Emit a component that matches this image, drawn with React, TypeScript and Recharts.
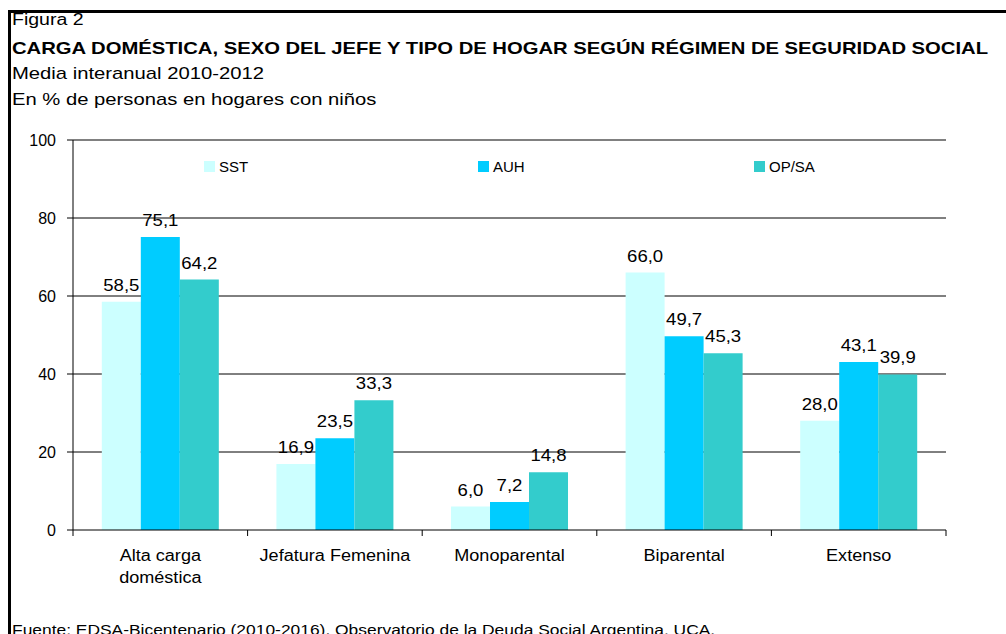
import React from "react";
import { Bar, BarChart, CartesianGrid, LabelList, Legend, ReferenceLine, XAxis, YAxis } from "recharts";

const categories = ["Alta carga\ndoméstica", "Jefatura Femenina", "Monoparental", "Biparental", "Extenso"];
const sst = [58.5, 16.9, 6.0, 66.0, 28.0];
const auh = [75.1, 23.5, 7.2, 49.7, 43.1];
const opsa = [64.2, 33.3, 14.8, 45.3, 39.9];
const yTicks = [0, 20, 40, 60, 80, 100];

const series = [
    { key: "SST", name: "SST", color: "#CCFFFF" },
    { key: "AUH", name: "AUH", color: "#00CCFF" },
    { key: "OPSA", name: "OP/SA", color: "#33CCCC" },
];

const rows = categories.map((c, i) => ({ cat: c, SST: sst[i], AUH: auh[i], OPSA: opsa[i] }));

const font = "'Liberation Sans', Arial, sans-serif";
const fmt = (v: any) => Number(v).toFixed(1).replace(".", ",");

// category label at the band centre, tick marks on the band edges
function CatTick(props: any) {
    const { x, y, payload, index, width } = props;
    const half = (width || 873) / categories.length / 2;
    const lines = String(payload.value).split("\n");
    return (
        <g>
            <line x1={x - half} y1={y} x2={x - half} y2={y + 6} stroke="#000" />
            {index === categories.length - 1 && <line x1={x + half} y1={y} x2={x + half} y2={y + 6} stroke="#000" />}
            <text transform={`translate(${x},${y + 31}) scale(1.13,1)`} textAnchor="middle" fontSize={16} fill="#000" fontFamily={font}>
                {lines.map((l, i) => (
                    <tspan key={i} x={0} dy={i === 0 ? 0 : 22}>{l}</tspan>
                ))}
            </text>
        </g>
    );
}

function ValueLabel(props: any) {
    const { x, y, width, value } = props;
    return (
        <text transform={`translate(${x + width / 2},${y - 11}) scale(1.16,1)`} textAnchor="middle" fontSize={16} fill="#000" fontFamily={font}>
            {fmt(value)}
        </text>
    );
}

function LegendBox() {
    const lefts = [204, 478, 754];
    return (
        <div style={{ position: "relative", height: 20 }}>
            {series.map((s, i) => (
                <div key={s.key} style={{ position: "absolute", left: lefts[i], top: 0, display: "flex", alignItems: "center", fontSize: 15, fontFamily: font, color: "#000" }}>
                    <span style={{ width: 11, height: 11, background: s.color, marginRight: 4, display: "inline-block" }} />
                    {s.name}
                </div>
            ))}
        </div>
    );
}

export default function App() {
    const txt = { position: "absolute" as const, left: 12, fontFamily: font, color: "#000", whiteSpace: "nowrap" as const, transformOrigin: "left top" };
    return (
        <div style={{ position: "absolute", left: 0, top: 0, width: 1006, height: 634, overflow: "hidden", background: "#fff" }}>
            <BarChart
                width={1006}
                height={634}
                data={rows}
                margin={{ top: 140, right: 60, bottom: 64, left: 13 }}
                barCategoryGap="16.5%"
                barGap={0}
            >
                <CartesianGrid horizontal={true} vertical={false} horizontalValues={[20, 40, 60, 80]} stroke="#000" />
                <XAxis
                    dataKey="cat"
                    interval={0}
                    tickLine={false}
                    tickSize={0}
                    tickMargin={0}
                    height={40}
                    axisLine={{ stroke: "#000" }}
                    tick={<CatTick />}
                />
                <YAxis
                    domain={[0, 100]}
                    ticks={yTicks}
                    interval={0}
                    width={60}
                    tickSize={6}
                    tickMargin={11}
                    axisLine={{ stroke: "#000" }}
                    tickLine={{ stroke: "#000" }}
                    tick={{ fill: "#000", fontSize: 16, fontFamily: font }}
                />
                <YAxis
                    yAxisId="r"
                    orientation="right"
                    width={0}
                    domain={[0, 100]}
                    tick={false}
                    tickLine={false}
                    axisLine={{ stroke: "#808080", strokeWidth: 2 }}
                />
                <ReferenceLine y={100} stroke="#808080" strokeWidth={2} />
                <Legend
                    layout="horizontal"
                    verticalAlign="middle"
                    content={<LegendBox />}
                    wrapperStyle={{ top: 158, left: 0, width: 1006 }}
                />
                {series.map((s) => (
                    <Bar key={s.key} dataKey={s.key} name={s.name} fill={s.color} isAnimationActive={false}>
                        <LabelList dataKey={s.key} content={<ValueLabel />} />
                    </Bar>
                ))}
            </BarChart>
            <div style={{ position: "absolute", left: 8, top: 10, width: 998, height: 3, background: "#000" }} />
            <div style={{ position: "absolute", left: 8, top: 10, width: 3, height: 624, background: "#000" }} />
            <div style={{ ...txt, top: 11, fontSize: 16, lineHeight: "18px", transform: "scaleX(1.22)" }}>Figura 2</div>
            <div style={{ ...txt, top: 39, fontSize: 17, lineHeight: "20px", fontWeight: "bold", transform: "scaleX(1.19)" }}>
                CARGA DOMÉSTICA, SEXO DEL JEFE Y TIPO DE HOGAR SEGÚN RÉGIMEN DE SEGURIDAD SOCIAL
            </div>
            <div style={{ ...txt, top: 64, fontSize: 17, lineHeight: "20px", transform: "scaleX(1.19)" }}>Media interanual 2010-2012</div>
            <div style={{ ...txt, top: 90, fontSize: 17, lineHeight: "20px", transform: "scaleX(1.19)" }}>En % de personas en hogares con niños</div>
            <div style={{ ...txt, top: 621, fontSize: 15, lineHeight: "18px", transform: "scaleX(1.16)" }}>
                Fuente: EDSA-Bicentenario (2010-2016). Observatorio de la Deuda Social Argentina, UCA.
            </div>
        </div>
    );
}
